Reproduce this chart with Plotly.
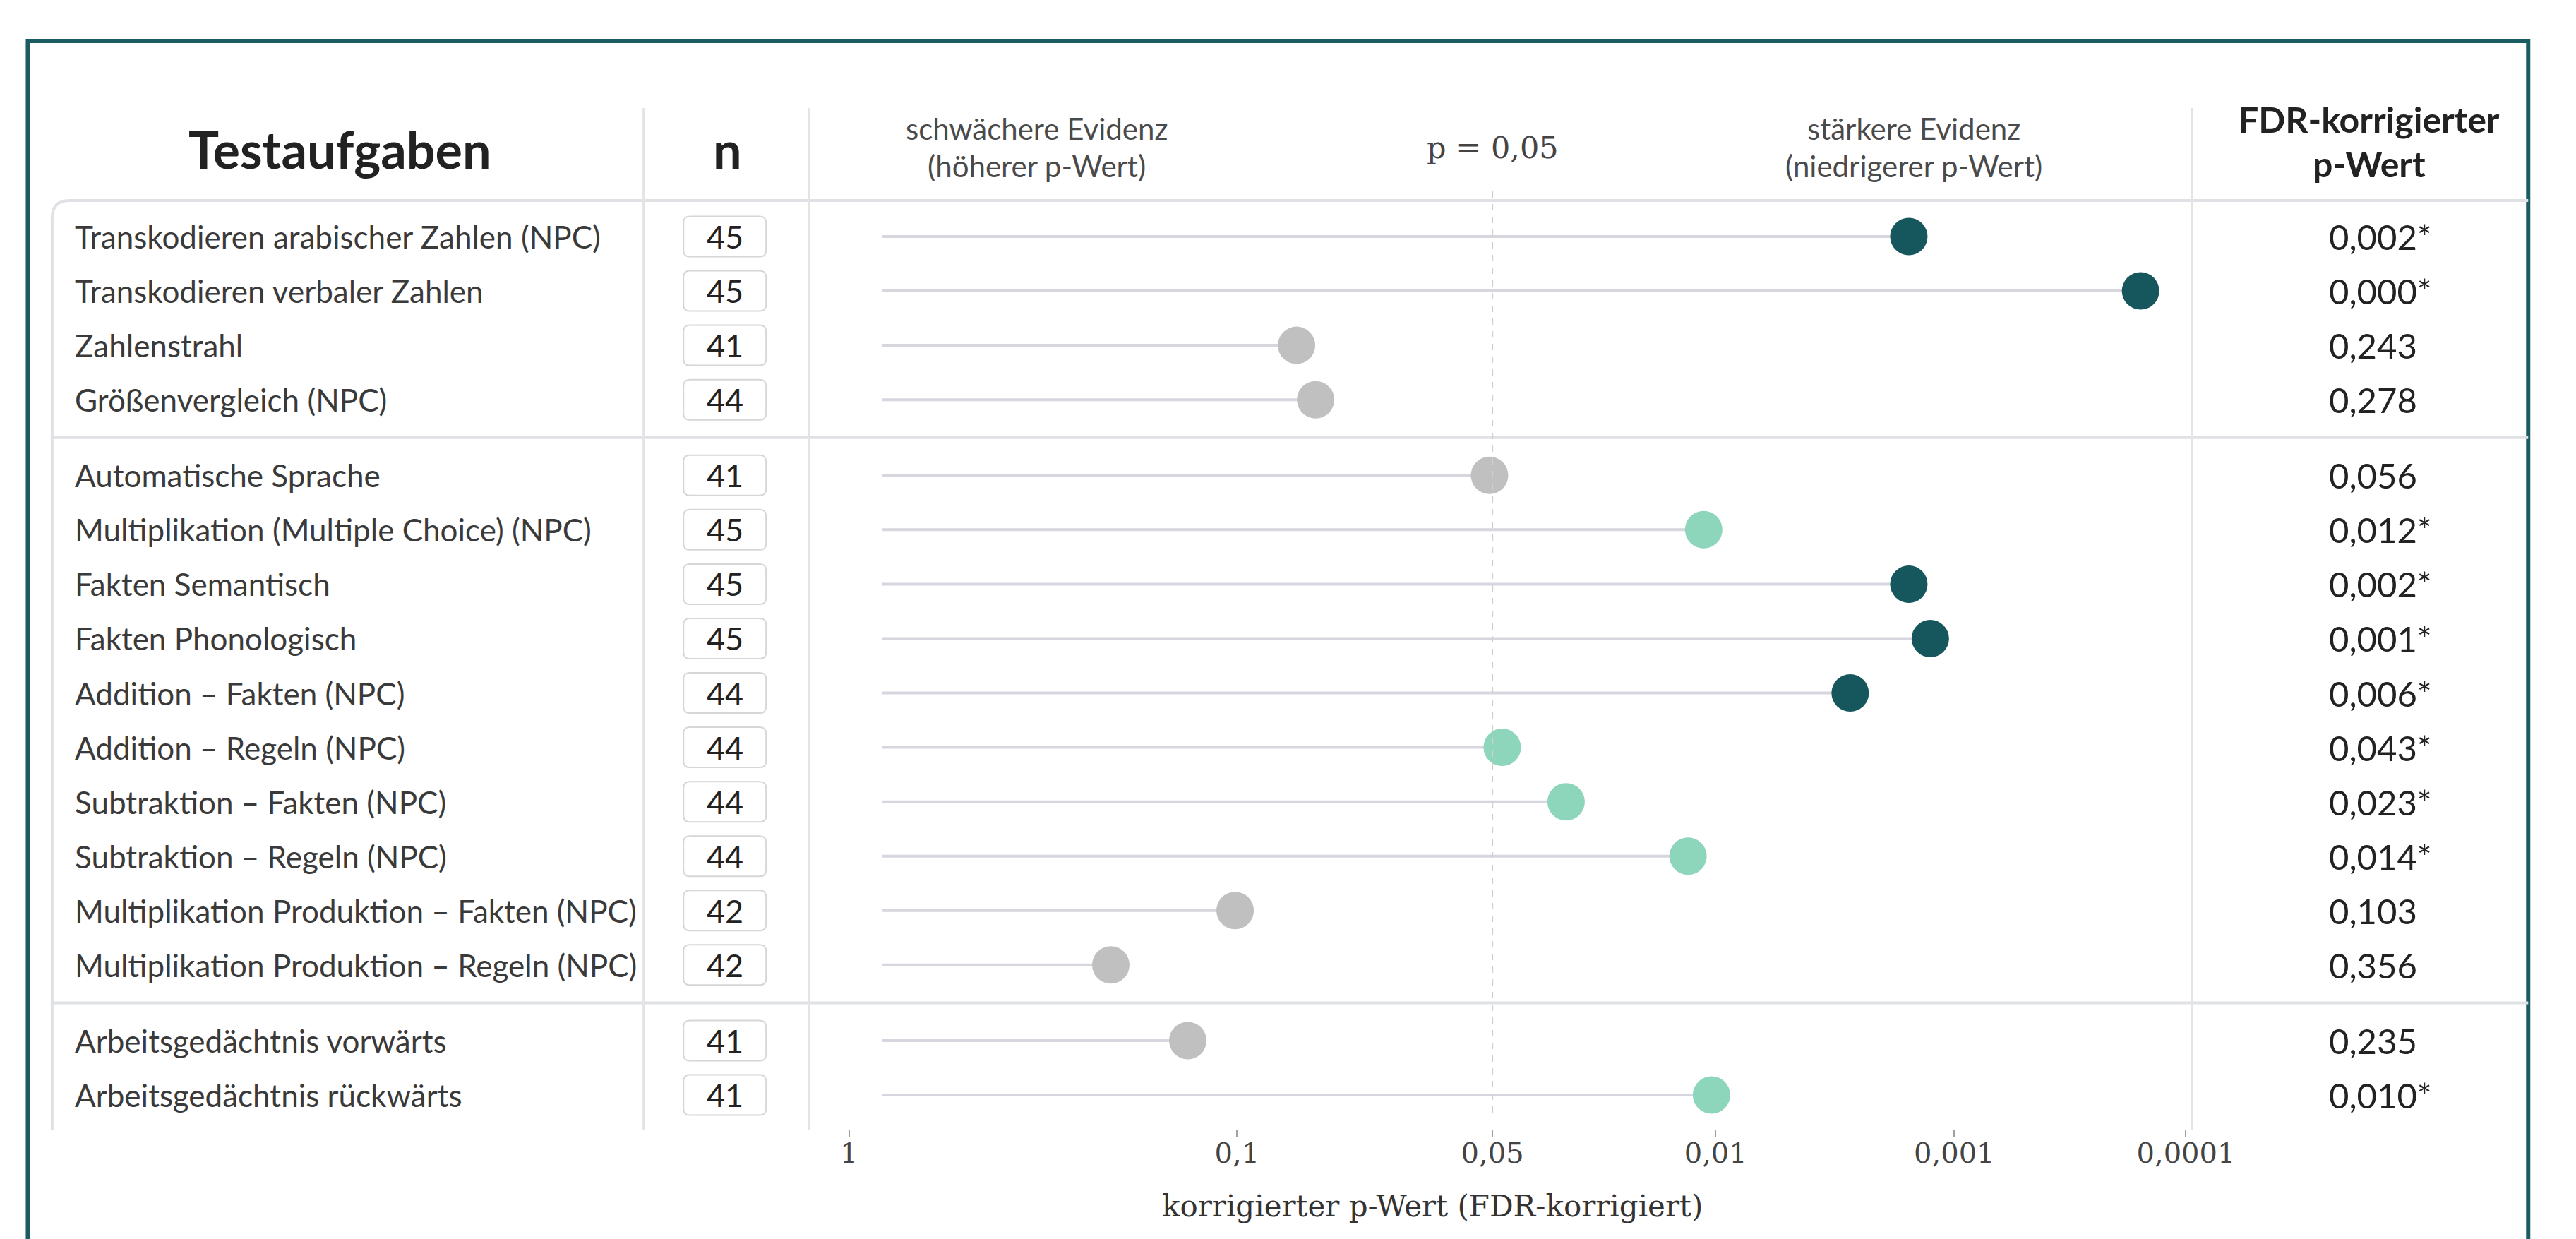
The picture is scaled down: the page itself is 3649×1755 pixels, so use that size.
import numpy as np
import plotly.graph_objects as go

# ---------------- data ----------------
tasks = [
    "Transkodieren arabischer Zahlen (NPC)",
    "Transkodieren verbaler Zahlen",
    "Zahlenstrahl",
    "Größenvergleich (NPC)",
    "Automatische Sprache",
    "Multiplikation (Multiple Choice) (NPC)",
    "Fakten Semantisch",
    "Fakten Phonologisch",
    "Addition – Fakten (NPC)",
    "Addition – Regeln (NPC)",
    "Subtraktion – Fakten (NPC)",
    "Subtraktion – Regeln (NPC)",
    "Multiplikation Produktion – Fakten (NPC)",
    "Multiplikation Produktion – Regeln (NPC)",
    "Arbeitsgedächtnis vorwärts",
    "Arbeitsgedächtnis rückwärts",
]
task_group = [0, 0, 0, 0, 1, 1, 1, 1, 1, 1, 1, 1, 1, 1, 2, 2]
n_values = [45, 45, 41, 44, 41, 45, 45, 45, 44, 44, 44, 44, 42, 42, 41, 41]
# FDR-corrected p-values as printed in the right column
p_reported = [0.002, 0.000, 0.243, 0.278, 0.056, 0.012, 0.002, 0.001,
              0.006, 0.043, 0.023, 0.014, 0.103, 0.356, 0.235, 0.010]
p_dot = [0.00155, 0.000157, 0.0851, 0.0808, 0.0504, 0.0109, 0.00155, 0.00126,
         0.00273, 0.0466, 0.0294, 0.0122, 0.1012, 0.2116, 0.1340, 0.0103]
tick_p = [1, 0.1, 0.05, 0.01, 0.001, 0.0001]
tick_labels = ["1", "0,1", "0,05", "0,01", "0,001", "0,0001"]

# ---------------- scale / layout helpers ----------------
W, H = 3649, 1755
tick_u = [0.0, 1.0, 1.658, 2.233, 2.848, 3.445]   # non-uniform evidence scale of the chart


def to_u(p):
    return np.interp(-np.log10(np.asarray(p, dtype=float)), -np.log10(tick_p), tick_u)


def px(x):
    return x / W


def py(y):
    return 1 - y / H


GROUP_GAP = 0.39
ypos = [i + GROUP_GAP * g for i, g in enumerate(task_group)]

C_DARK, C_MINT, C_GREY = "#16565d", "#8dd5bb", "#c0c0c0"
colors = [C_DARK if p < 0.01 else (C_MINT if p < 0.05 else C_GREY) for p in p_reported]

LINE_START_P = 0.82
u_start = float(to_u(LINE_START_P))
u_dot = to_u(p_dot)

SANS = "Lato"
SERIF = "DejaVu Serif"

fig = go.Figure()

# lollipop stems
lx, ly = [], []
for u, y in zip(u_dot, ypos):
    lx += [u_start, float(u), None]
    ly += [y, y, None]
fig.add_trace(go.Scatter(x=lx, y=ly, mode="lines",
                         line=dict(color="#d7d5de", width=4),
                         hoverinfo="skip", showlegend=False))
# dots
fig.add_trace(go.Scatter(x=u_dot, y=ypos, mode="markers",
                         marker=dict(size=53, color=colors, line=dict(width=0)),
                         text=tasks, hovertemplate="%{text}<extra></extra>",
                         showlegend=False))

# axis geometry (pixels)
X_L, X_R = 1157, 3150          # plot column
X_TICK0, X_TICKN = 1215, 3141  # positions of tick "1" and "0,0001"
kx = (X_TICKN - X_TICK0) / tick_u[-1]
x_range = [-(X_TICK0 - X_L) / kx, tick_u[-1] + (X_R - X_TICKN) / kx]

Y_TOP, Y_BOT = 276, 1592
ROW1_PX, ROWN_PX = 327, 1543
ky = (ROWN_PX - ROW1_PX) / (ypos[-1] - ypos[0])
y_range = [ypos[-1] + (Y_BOT - ROWN_PX) / ky, ypos[0] - (ROW1_PX - Y_TOP) / ky]

shapes = []
line_col = "#dfe1e4"
# outer teal frame
shapes.append(dict(type="rect", xref="paper", yref="paper",
                   x0=px(32), x1=px(3634), y0=py(1800), y1=py(50),
                   line=dict(color="#1b5c63", width=6), fillcolor="rgba(0,0,0,0)"))
# left table outline with rounded corner + header line
r = 25
shapes.append(dict(type="path", xref="paper", yref="paper",
                   path=f"M {px(67)},{py(Y_BOT)} L {px(67)},{py(Y_TOP + r)} "
                        f"Q {px(67)},{py(Y_TOP)} {px(67 + r)},{py(Y_TOP)} L {px(3634)},{py(Y_TOP)}",
                   line=dict(color=line_col, width=4)))
# group separators
for g in range(max(task_group)):
    last = max(y for y, gg in zip(ypos, task_group) if gg == g)
    first = min(y for y, gg in zip(ypos, task_group) if gg == g + 1)
    ym = (last + first) / 2
    shapes.append(dict(type="line", xref="paper", yref="y",
                       x0=px(67), x1=px(3634), y0=ym, y1=ym,
                       line=dict(color=line_col, width=4)))
# vertical column separators
for xs in [919, 1157, 3150]:
    shapes.append(dict(type="line", xref="paper", yref="paper",
                       x0=px(xs), x1=px(xs), y0=py(145), y1=py(Y_BOT),
                       line=dict(color="#e4e4e4", width=3)))
# p = 0.05 reference line
u05 = float(to_u(0.05))
shapes.append(dict(type="line", xref="x", yref="paper",
                   x0=u05, x1=u05, y0=py(263), y1=py(1575),
                   line=dict(color="#d0d0d0", width=2, dash="dash")))
# n boxes (rounded)
bw, bh, br = 119, 57, 9
bxc = 1036
for y in ypos:
    x0, x1 = px(bxc - bw / 2), px(bxc + bw / 2)
    rx = px(br)
    ry = br / ky
    y0, y1 = y - bh / 2 / ky, y + bh / 2 / ky
    path = (f"M {x0 + rx},{y0} L {x1 - rx},{y0} Q {x1},{y0} {x1},{y0 + ry} "
            f"L {x1},{y1 - ry} Q {x1},{y1} {x1 - rx},{y1} L {x0 + rx},{y1} "
            f"Q {x0},{y1} {x0},{y1 - ry} L {x0},{y0 + ry} Q {x0},{y0} {x0 + rx},{y0} Z")
    shapes.append(dict(type="path", xref="paper", yref="y", path=path,
                       line=dict(color="#d6d6d6", width=2), fillcolor="white", layer="below"))

ann = []


def text(x, y, s, size, color="#333", family=SANS, xanchor="center", xref="paper", yref="paper"):
    ann.append(dict(x=x, y=y, xref=xref, yref=yref, text=s, showarrow=False,
                    xanchor=xanchor, yanchor="middle",
                    font=dict(family=family, size=size, color=color)))


# header
text(px(482), py(203), "<b>Testaufgaben</b>", 72, "#222")
text(px(1040), py(203), "<b>n</b>", 72, "#222")
text(px(1485), py(174), "schwächere Evidenz", 42, "#4a4a4a")
text(px(1485), py(227), "(höherer p-Wert)", 42, "#4a4a4a")
text(u05, py(201), "p = 0,05", 43, "#444", family=SERIF, xref="x")
text(px(2749), py(174), "stärkere Evidenz", 42, "#4a4a4a")
text(px(2749), py(227), "(niedrigerer p-Wert)", 42, "#4a4a4a")
text(px(3405), py(161), "<b>FDR-korrigierter</b>", 50, "#222")
text(px(3405), py(224), "<b>p-Wert</b>", 50, "#222")

# rows
for t, n, p, y in zip(tasks, n_values, p_reported, ypos):
    text(px(98), y, t, 44, "#3a3a3a", xanchor="left", yref="y")
    text(px(bxc), y, str(n), 45, "#222", yref="y")
    lab = f"{p:.3f}".replace(".", ",") + ("*" if p < 0.05 else "")
    text(px(3345), y, lab, 49, "#222", xanchor="left", yref="y")

# axis title
text(px(2055), py(1700), "korrigierter p-Wert (FDR-korrigiert)", 42, "#333", family=SERIF)

fig.update_layout(
    width=W, height=H, autosize=False,
    margin=dict(l=0, r=0, t=0, b=0, pad=0),
    paper_bgcolor="white", plot_bgcolor="rgba(0,0,0,0)",
    shapes=shapes, annotations=ann, showlegend=False,
    xaxis=dict(domain=[px(X_L), px(X_R)], range=x_range, type="linear",
               tickvals=[float(v) for v in to_u(tick_p)], ticktext=tick_labels,
               ticks="outside", ticklen=10, tickwidth=2, tickcolor="#a0a0a0",
               ticklabelstandoff=-12,
               tickfont=dict(family=SERIF, size=40, color="#444"),
               showgrid=False, zeroline=False, showline=False,
               fixedrange=True),
    yaxis=dict(domain=[py(Y_BOT), py(Y_TOP)], range=y_range, visible=False,
               showgrid=False, zeroline=False, fixedrange=True),
)

fig.write_html("out.html")
